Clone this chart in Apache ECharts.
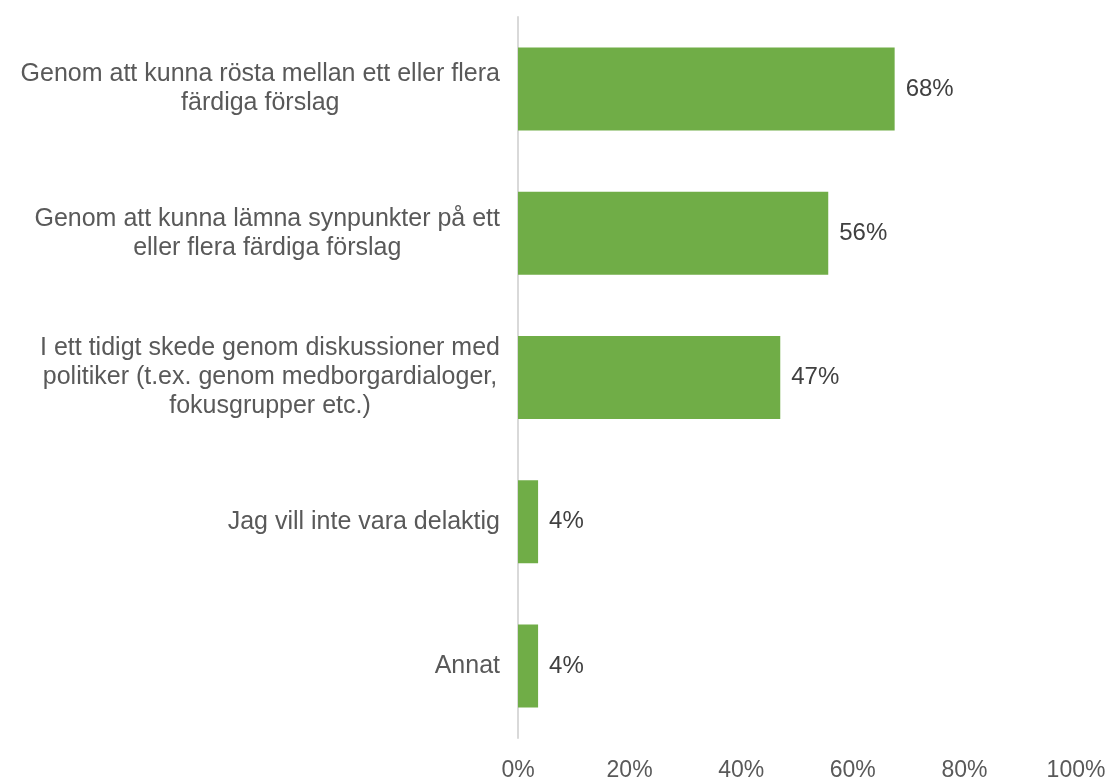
<!DOCTYPE html>
<html>
<head>
<meta charset="utf-8">
<script src="https://cdn.jsdelivr.net/npm/echarts@6/dist/echarts.min.js"></script>
<style>
  html, body { margin: 0; padding: 0; background: #fff; }
  #chart { width: 1108px; height: 779px; }
</style>
</head>
<body>
<div id="chart"></div>
<script>
// categories, top to bottom
const categories = [
  'Genom att kunna rösta mellan ett eller flera\nfärdiga förslag',
  'Genom att kunna lämna synpunkter på ett\neller flera färdiga förslag',
  'I ett tidigt skede genom diskussioner med\npolitiker (t.ex. genom medborgardialoger,\nfokusgrupper etc.)',
  'Jag vill inte vara delaktig',
  'Annat'
]
const values = [67.5, 55.6, 47, 3.6, 3.6]
const valueLabels = ['68%', '56%', '47%', '4%', '4%']
const xTicks = [0, 20, 40, 60, 80, 100]

const chart = echarts.init(document.getElementById('chart'))

const option = {
  animation: false,
  textStyle: { fontFamily: 'Liberation Sans, Arial, sans-serif' },
  grid: {
    left: 518,
    right: 32,
    top: 17,
    bottom: 41,
    outerBoundsMode: 'none'
  },
  xAxis: {
    type: 'value',
    min: xTicks[0],
    max: xTicks[xTicks.length - 1],
    interval: 20,
    axisLine: { show: false },
    axisTick: { show: false },
    splitLine: { show: false },
    axisLabel: {
      color: '#595959',
      fontSize: 23,
      margin: 21,
      formatter: v => v + '%'
    }
  },
  yAxis: {
    type: 'category',
    inverse: true,
    data: categories,
    axisLine: { show: true, lineStyle: { color: '#D9D9D9', width: 2 } },
    axisTick: { show: false },
    axisLabel: {
      margin: 18,
      color: '#595959',
      fontSize: 25,
      lineHeight: 29,
      // centre each line inside the right-aligned block
      formatter: v => v.split('\n').map(l => '{c|' + l + '}').join('\n'),
      rich: {
        c: { align: 'center', fontSize: 25, lineHeight: 29, color: '#595959' }
      }
    }
  },
  series: [
    {
      type: 'bar',
      data: values,
      barWidth: 83,
      itemStyle: { color: '#70AD47' },
      label: {
        show: true,
        position: 'right',
        distance: 11,
        color: '#404040',
        fontSize: 24,
        formatter: p => valueLabels[p.dataIndex]
      }
    }
  ]
}

chart.setOption(option)
</script>
</body>
</html>
